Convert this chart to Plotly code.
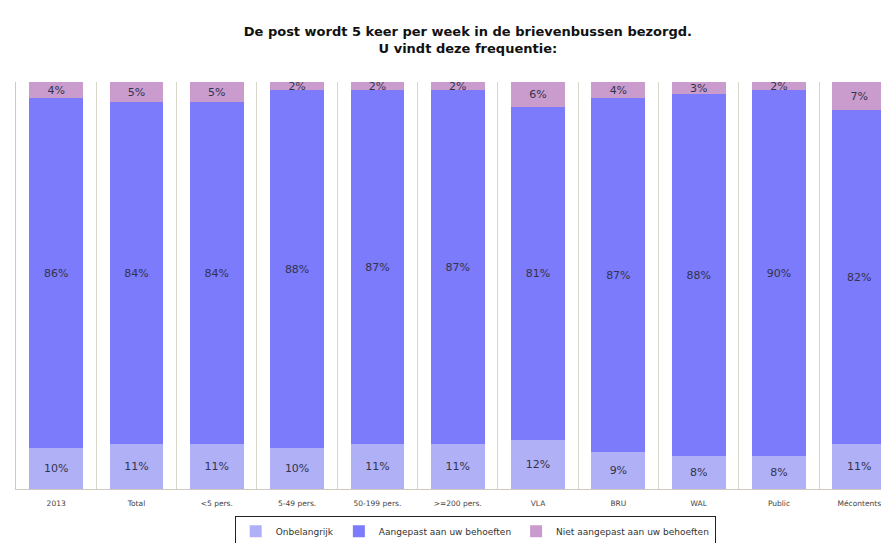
import plotly.graph_objects as go

categories = ["2013", "Total", "<5 pers.", "5-49 pers.", "50-199 pers.", ">=200 pers.",
              "VLA", "BRU", "WAL", "Public", "Mécontents"]
onbelangrijk = [10, 11, 11, 10, 11, 11, 12, 9, 8, 8, 11]
aangepast = [86, 84, 84, 88, 87, 87, 81, 87, 88, 90, 82]
niet_aangepast = [4, 5, 5, 2, 2, 2, 6, 4, 3, 2, 7]

series = [
    ("Onbelangrijk", onbelangrijk, "#b0b0f6"),
    ("Aangepast aan uw behoeften", aangepast, "#7b7bfb"),
    ("Niet aangepast aan uw behoeften", niet_aangepast, "#c99ccd"),
]

fig = go.Figure()
for name, vals, color in series:
    fig.add_trace(go.Bar(
        x=categories, y=vals, name=name,
        marker=dict(color=color, line=dict(width=0)),
        text=[f"{v}%" for v in vals],
        textposition="inside", insidetextanchor="middle",
        textfont=dict(family="DejaVu Sans", size=11, color="#33334d"),
        textangle=0,
    ))

# page body has an 8px margin, so the figure is 8px smaller than the window
fig.update_layout(
    width=881, height=535,
    barmode="stack", barnorm="percent", bargap=0.33,
    paper_bgcolor="white", plot_bgcolor="white",
    margin=dict(l=8, r=0, t=74, b=54, autoexpand=False),
    title=dict(
        text="<b>De post wordt 5 keer per week in de brievenbussen bezorgd.<br>U vindt deze frequentie:</b>",
        x=0.522, xanchor="center", y=0.948, yanchor="top",
        font=dict(family="DejaVu Sans", size=13, color="#111111"),
    ),
    font=dict(family="DejaVu Sans"),
    showlegend=True,
    legend=dict(
        orientation="h", traceorder="normal",
        x=0.526, xanchor="center", y=-0.066, yanchor="top",
        bordercolor="#222222", borderwidth=1, bgcolor="white",
        font=dict(family="DejaVu Sans", size=9, color="#333333"),
        itemwidth=30, tracegroupgap=0,
    ),
    uniformtext=dict(minsize=9, mode="show"),
)
fig.update_xaxes(
    type="category", range=[-0.5, 10.37], automargin=False,
    tickson="boundaries", showgrid=True, gridcolor="#d9d6cc", gridwidth=1,
    showline=True, linecolor="#cfcabd", linewidth=1, mirror=False,
    ticks="", ticklabelstandoff=7,
    tickfont=dict(family="DejaVu Sans", size=7.5, color="#444444"),
)
fig.update_yaxes(
    range=[0, 100], showgrid=False, showticklabels=False, zeroline=False,
    automargin=False,
    showline=True, linecolor="#cfcabd", linewidth=1, ticks="",
)

fig.write_html("out.html")
